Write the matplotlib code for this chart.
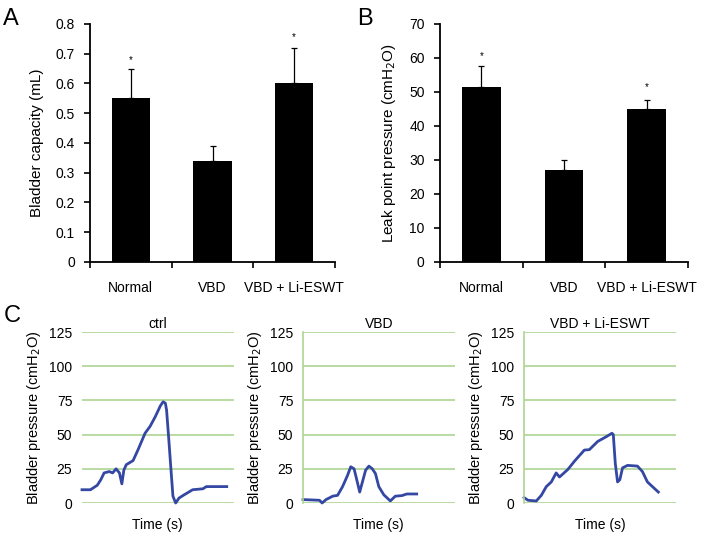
import matplotlib
matplotlib.use("Agg")
from matplotlib import pyplot as plt
import numpy as np

plt.rcParams['font.family'] = ['Liberation Sans', 'DejaVu Sans']
plt.rcParams['font.size'] = 10

# bar data
groups = ['Normal', 'VBD', 'VBD + Li-ESWT']
capacity = [0.55, 0.34, 0.60]
capacity_err = [0.10, 0.05, 0.12]
capacity_star = [0.68, None, 0.755]
lpp = [51.5, 27.0, 45.0]
lpp_err = [6.0, 3.0, 2.7]
lpp_star = [60.5, None, 51.5]

# cystometry traces (time in arbitrary units 0-100, pressure cmH2O)
ctrl_t = [0, 5.6, 10.1, 12.4, 14.6, 18, 20.2, 22.5, 24.7, 26.3, 27.6, 29.2, 33.7, 37, 39.3,
          41.6, 44.9, 48.3, 51.7, 53.5, 55, 55.8, 57.3, 58.4, 60, 61.8, 64, 67.4, 73, 79.8, 82, 95.5]
ctrl_p = [9.7, 9.7, 13, 17, 22, 23, 22, 25, 22, 14, 24, 28, 31, 39, 45,
          51, 56, 63, 71, 74, 73, 68, 46, 29, 5, 0, 3.6, 6, 9.7, 10.4, 12, 12]
vbd_t = [0, 10.9, 12.6, 15.2, 19.6, 22.8, 26.1, 29.3, 31.5, 33.7, 35.9, 37.4, 39.1, 41.3,
         43.5, 45.7, 47.8, 50, 53.3, 57.6, 60.9, 65.2, 68.5, 75]
vbd_p = [2.5, 2, 0, 2.5, 5, 5.6, 12, 20, 26.5, 25, 15, 8, 15, 24,
         27, 25, 21.5, 12, 6, 1.5, 5, 5.4, 6.6, 6.6]
eswt_t = [0, 2.6, 8.1, 11.4, 14.7, 18, 21.2, 23.4, 28.9, 33.3, 39.8, 43.1, 48.6, 54.3, 58,
          58.9, 60.2, 61.7, 63.2, 65, 68.3, 74.8, 78.1, 81.4, 84.7, 88.6]
eswt_p = [4, 2, 1.5, 5.6, 12, 15.4, 22, 19, 24.5, 30.6, 38.7, 39, 45, 48.5, 51,
          50, 29, 15.4, 17, 25.7, 27.5, 27, 23, 15.4, 12, 8]
trace_titles = ['ctrl', 'VBD', 'VBD + Li-ESWT']
pressure_ticks = [0, 25, 50, 75, 100, 125]

fig = plt.figure(figsize=(7.05, 5.35), dpi=100)


def bar_panel(rect, vals, errs, stars, ylim, yticks, ylabel, fmt):
    ax = fig.add_axes(rect)
    x = np.arange(len(groups))
    ax.bar(x, vals, width=0.47, color='black', zorder=2)
    # only the upper half of the error bar shows above the bar
    ax.errorbar(x, vals, yerr=[np.zeros(len(errs)), errs], fmt='none', ecolor='black',
                elinewidth=0.9, capsize=2.2, capthick=0.9, zorder=1)
    for xi, s in zip(x, stars):
        if s is not None:
            ax.text(xi, s, '*', ha='center', va='center', fontsize=7)
    ax.set_xlim(-0.5, 2.5)
    ax.set_ylim(*ylim)
    ax.set_yticks(yticks)
    ax.set_yticklabels([fmt(v) for v in yticks])
    ax.set_xticks(x)
    ax.set_xticklabels(groups)
    ax.set_xticks([-0.5, 0.5, 1.5, 2.5], minor=True)
    ax.tick_params(axis='x', which='major', length=0, pad=14)
    ax.tick_params(axis='x', which='minor', length=4, width=1.2, direction='out')
    ax.tick_params(axis='y', length=4, width=1.2, direction='out', pad=7)
    for s in ['top', 'right']:
        ax.spines[s].set_visible(False)
    for s in ['left', 'bottom']:
        ax.spines[s].set_linewidth(1.3)
    ax.set_ylabel(ylabel, fontsize=11, labelpad=8)
    return ax


bar_panel([0.1277, 0.5103, 0.3475, 0.4449], capacity, capacity_err, capacity_star,
          (0, 0.8), [0, 0.1, 0.2, 0.3, 0.4, 0.5, 0.6, 0.7, 0.8], 'Bladder capacity (mL)',
          lambda v: '0' if v == 0 else f'{v:.1f}')
bar_panel([0.624, 0.5103, 0.352, 0.4449], lpp, lpp_err, lpp_star,
          (0, 70), [0, 10, 20, 30, 40, 50, 60, 70], 'Leak point pressure (cmH$_2$O)',
          lambda v: f'{v:g}')

traces = [(ctrl_t, ctrl_p), (vbd_t, vbd_p), (eswt_t, eswt_p)]
lefts = [0.1163, 0.4298, 0.7433]
for i, ((t, p), title) in enumerate(zip(traces, trace_titles)):
    ax = fig.add_axes([lefts[i], 0.0598, 0.215, 0.3196])
    for yv in pressure_ticks:
        ax.axhline(yv, color='#aed494', lw=1.2, zorder=0)
    ax.plot(t, p, color='#3447a3', lw=2.0, clip_on=False, zorder=2)
    ax.set_xlim(0, 100)
    ax.set_ylim(0, 125)
    ax.set_yticks(pressure_ticks)
    ax.set_xticks([])
    ax.tick_params(axis='y', length=0, pad=7)
    for s in ['top', 'right', 'bottom']:
        ax.spines[s].set_visible(False)
    if i == 0:
        ax.spines['left'].set_visible(False)
    else:
        ax.spines['left'].set_color('#aed494')
        ax.spines['left'].set_linewidth(1.2)
    ax.set_title(title, fontsize=10, pad=3)
    ax.set_xlabel('Time (s)', labelpad=11)
    ax.set_ylabel('Bladder pressure (cmH$_2$O)', fontsize=10.5, labelpad=4)

fig.text(0.004, 0.953, 'A', fontsize=17, va='baseline')
fig.text(0.506, 0.953, 'B', fontsize=17, va='baseline')
fig.text(0.006, 0.398, 'C', fontsize=17, va='baseline')

fig.savefig('out.png', dpi=100)
